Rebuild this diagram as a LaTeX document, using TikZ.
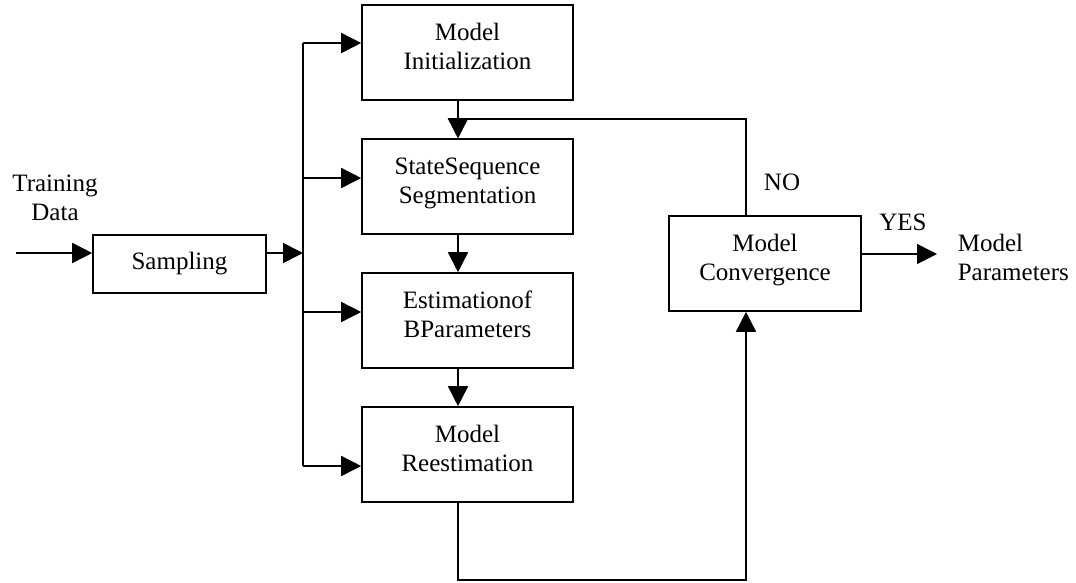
\documentclass[tikz,border=0pt]{standalone}
\usepackage{fontspec}
\setmainfont{Liberation Serif}
\usepackage{tikz}
\usetikzlibrary{arrows.meta,positioning}

\begin{document}
\begin{tikzpicture}[x=1pt,y=-1pt,->,>={Triangle[length=20pt,width=20pt]},line width=1.6pt,
		node distance=134pt,font=\fontsize{25}{29}\selectfont]
		\tikzstyle{every node}=[align=center,inner sep=0pt]
		\tikzstyle{block}=[draw=black,fill=white]
		\tikzstyle{tall}=[block,minimum width=211pt,minimum height=95pt,
			execute at end node={\rule[-12pt]{0pt}{12pt}}]
		
		\useasboundingbox (0,0) rectangle (1076,582);
		
		\node (train) at (55,198) {Training\\Data};
		\node[block,minimum width=173pt,minimum height=58pt] (samp) at (179.5,264) {Sampling};
		\node[tall] (init) at (467.5,52.5) {Model\\Initialization};
		\node[tall] (seg) [below of=init] {StateSequence\\Segmentation};
		\node[tall] (est) [below of=seg] {Estimationof\\BParameters};
		\node[tall] (reest) [below of=est] {Model\\Reestimation};
		\node[tall,minimum width=192pt] (conv) at (765,263.5) {Model\\Convergence};
		
		\node (no) at (782,182) {NO};
		\node (yes) at (903,222) {YES};
		\node[anchor=west,align=left] (par) at (957,257.5) {Model\\Parameters};
		
		\coordinate (in) at (16,253);
		\coordinate (bus) at (303,253);
		\coordinate (b1) at (303,43);
		\coordinate (b2) at (303,178);
		\coordinate (b3) at (303,312);
		\coordinate (b4) at (303,466);
		\coordinate (col) at (458,0);
		\coordinate (loop) at (746,119);
		\coordinate (low) at (458,580);
		\coordinate (out) at (937,254);
		
		\draw (in) -- (in -| samp.west);
		\draw (in -| samp.east) -- (bus);
		\draw[-] (b1) -- (b4);
		
		\path
		(b1) edge (b1 -| init.west)
		(b2) edge (b2 -| seg.west)
		(b3) edge (b3 -| est.west)
		(b4) edge (b4 -| reest.west);
		
		\path
		(col |- init.south) edge (col |- seg.north)
		(col |- seg.south) edge (col |- est.north)
		(col |- est.south) edge (col |- reest.north);
		
		% loop back when not converged
		\draw (loop |- conv.north) -- (loop) -- (loop -| col) -- (col |- seg.north);
		\draw (col |- reest.south) -- (low) -| (loop |- conv.south);
		\draw (conv.east |- out) -- (out);
		\end{tikzpicture}
\end{document}
